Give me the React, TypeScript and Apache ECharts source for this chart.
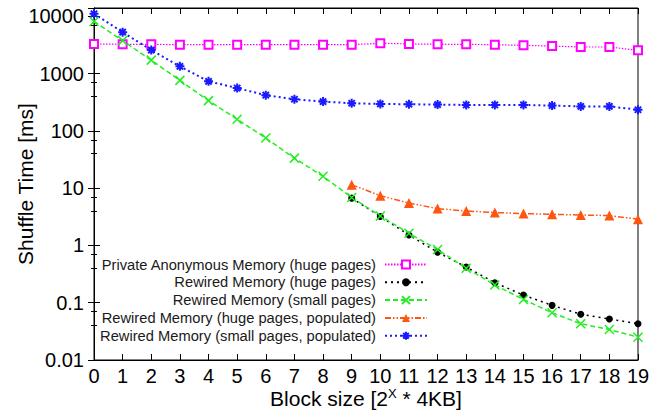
import React, { useEffect, useRef } from "react";
import * as echarts from "echarts";

const xs = [0, 1, 2, 3, 4, 5, 6, 7, 8, 9, 10, 11, 12, 13, 14, 15, 16, 17, 18, 19];
const yTickLabels = ["0.01", "0.1", "1", "10", "100", "1000", "10000"];

const privateHuge = [3300, 3250, 3250, 3200, 3200, 3200, 3200, 3200, 3200, 3200, 3390, 3300, 3250, 3250, 3200, 3120, 3030, 2920, 2920, 2550];
const rewiredHuge = [null, null, null, null, null, null, null, null, null, 6.7, 3.2, 1.52, 0.76, 0.42, 0.224, 0.136, 0.09, 0.063, 0.052, 0.043];
const rewiredSmall = [8160, 3770, 1720, 762, 338, 160, 75, 33.5, 16.1, 6.9, 3.28, 1.63, 0.85, 0.4, 0.204, 0.114, 0.067, 0.043, 0.034, 0.025];
const rewiredHugePop = [null, null, null, null, null, null, null, null, null, 11.5, 7.4, 5.5, 4.4, 4.0, 3.76, 3.6, 3.5, 3.4, 3.33, 2.87];
const rewiredSmallPop = [11100, 5300, 2580, 1340, 733, 560, 420, 357, 325, 304, 296, 292, 288, 284, 284, 284, 277, 268, 268, 234];

const names = [
  "Private Anonymous Memory (huge pages)",
  "Rewired Memory (huge pages)",
  "Rewired Memory (small pages)",
  "Rewired Memory (huge pages, populated)",
  "Rewired Memory (small pages, populated)",
];

const FONT = "'Liberation Sans', Arial, Helvetica, sans-serif";

function pairs(vals: (number | null)[]) {
  const out: number[][] = [];
  vals.forEach((v, i) => {
    if (v !== null) out.push([xs[i], v]);
  });
  return out;
}

const crossPath = "path://M0,0L10,10M10,0L0,10";
const starPath = "path://M5,0L5,10M0,5L10,5M1.5,1.5L8.5,8.5M8.5,1.5L1.5,8.5";

export default function App() {
  const ref = useRef<HTMLDivElement>(null);
  useEffect(() => {
    if (!ref.current) return;
    const chart = echarts.init(ref.current, undefined, { renderer: "svg" });
    const yFormatter = (v: number) => {
      const e = Math.log10(v);
      const r = Math.round(e);
      if (Math.abs(e - r) > 1e-6) return "";
      const idx = r + 2;
      return yTickLabels[idx] ?? "";
    };
    const baseX = {
      type: "value",
      min: 0,
      max: 19,
      interval: 1,
      splitLine: { show: false },
      axisLine: { show: true, lineStyle: { color: "#000", width: 1 } },
      axisTick: { show: true, inside: true, length: 6, lineStyle: { color: "#000" } },
    };
    const baseY = {
      type: "log",
      logBase: 10,
      min: 0.01,
      max: 14000,
      splitLine: { show: false },
      axisLine: { show: true, lineStyle: { color: "#000", width: 1 } },
      axisTick: { show: true, inside: true, length: 6, lineStyle: { color: "#000" } },
      minorTick: { show: true, splitNumber: 3, length: 3, lineStyle: { color: "#000" } },
    };
    chart.setOption({
      animation: false,
      backgroundColor: "#fff",
      textStyle: { fontFamily: FONT },
      grid: {
        left: 94,
        right: 14,
        top: 8,
        bottom: 56,
        show: true,
        borderColor: "#000",
        borderWidth: 1,
        outerBoundsMode: "none",
        containLabel: false,
      },
      legend: {
        orient: "vertical",
        align: "right",
        right: 224,
        top: 256,
        padding: 0,
        itemWidth: 42,
        itemHeight: 10,
        itemGap: 0.8,
        textStyle: { fontSize: 14.7, color: "#1a1a1a", fontFamily: FONT, lineHeight: 17, padding: [0, 4, 0, 0] },
        data: names,
      },
      xAxis: [
        {
          ...baseX,
          position: "bottom",
          axisLabel: { fontSize: 20, color: "#000", margin: 6, fontFamily: FONT },
          name: "Block size [2{sup|X} * 4KB]",
          nameLocation: "middle",
          nameGap: 27,
          nameMoveOverlap: false,
          nameTextStyle: {
            fontSize: 21,
            color: "#000",
            fontFamily: FONT,
            rich: { sup: { fontSize: 13, padding: [0, 0, 10, 0], fontFamily: FONT, color: "#000" } },
          },
        },
        {
          ...baseX,
          position: "top",
          axisLabel: { show: false },
        },
      ],
      yAxis: [
        {
          ...baseY,
          position: "left",
          axisLabel: { fontSize: 20, color: "#000", margin: 10, formatter: yFormatter, fontFamily: FONT },
          name: "Shuffle Time [ms]",
          nameLocation: "middle",
          nameGap: 58,
          nameMoveOverlap: false,
          nameTextStyle: { fontSize: 21, color: "#000", fontFamily: FONT },
        },
        {
          ...baseY,
          position: "right",
          axisLabel: { show: false },
        },
      ],
      series: [
        {
          name: names[0],
          type: "line",
          data: pairs(privateHuge),
          symbol: "emptyRect",
          symbolSize: 8,
          itemStyle: { color: "#ff00ff", borderColor: "#ff00ff", borderWidth: 1.5 },
          lineStyle: { color: "#ff00ff", width: 1.2, type: [1.5, 1.5] },
        },
        {
          name: names[1],
          type: "line",
          data: pairs(rewiredHuge),
          symbol: "circle",
          symbolSize: 7,
          itemStyle: { color: "#000", borderColor: "#000", borderWidth: 0 },
          lineStyle: { color: "#000", width: 1.5, type: [2, 4] },
        },
        {
          name: names[2],
          type: "line",
          data: pairs(rewiredSmall),
          symbol: crossPath,
          symbolSize: 9,
          itemStyle: { color: "#22ee22", borderColor: "#22ee22", borderWidth: 1.5 },
          lineStyle: { color: "#22ee22", width: 1.5, type: [5, 3] },
        },
        {
          name: names[3],
          type: "line",
          data: pairs(rewiredHugePop),
          symbol: "triangle",
          symbolSize: 10,
          itemStyle: { color: "#ff5511", borderColor: "#ff5511", borderWidth: 0 },
          lineStyle: { color: "#ff5511", width: 1.5, type: [6, 2, 1.5, 2, 1.5, 2] },
        },
        {
          name: names[4],
          type: "line",
          data: pairs(rewiredSmallPop),
          symbol: starPath,
          symbolSize: 9,
          itemStyle: { color: "#1a1aff", borderColor: "#1a1aff", borderWidth: 2 },
          lineStyle: { color: "#1a1aff", width: 2, type: [2, 3] },
        },
      ],
    });
    return () => chart.dispose();
  }, []);
  return <div ref={ref} style={{ width: 652, height: 416, position: "absolute", left: 0, top: 0 }} />;
}
